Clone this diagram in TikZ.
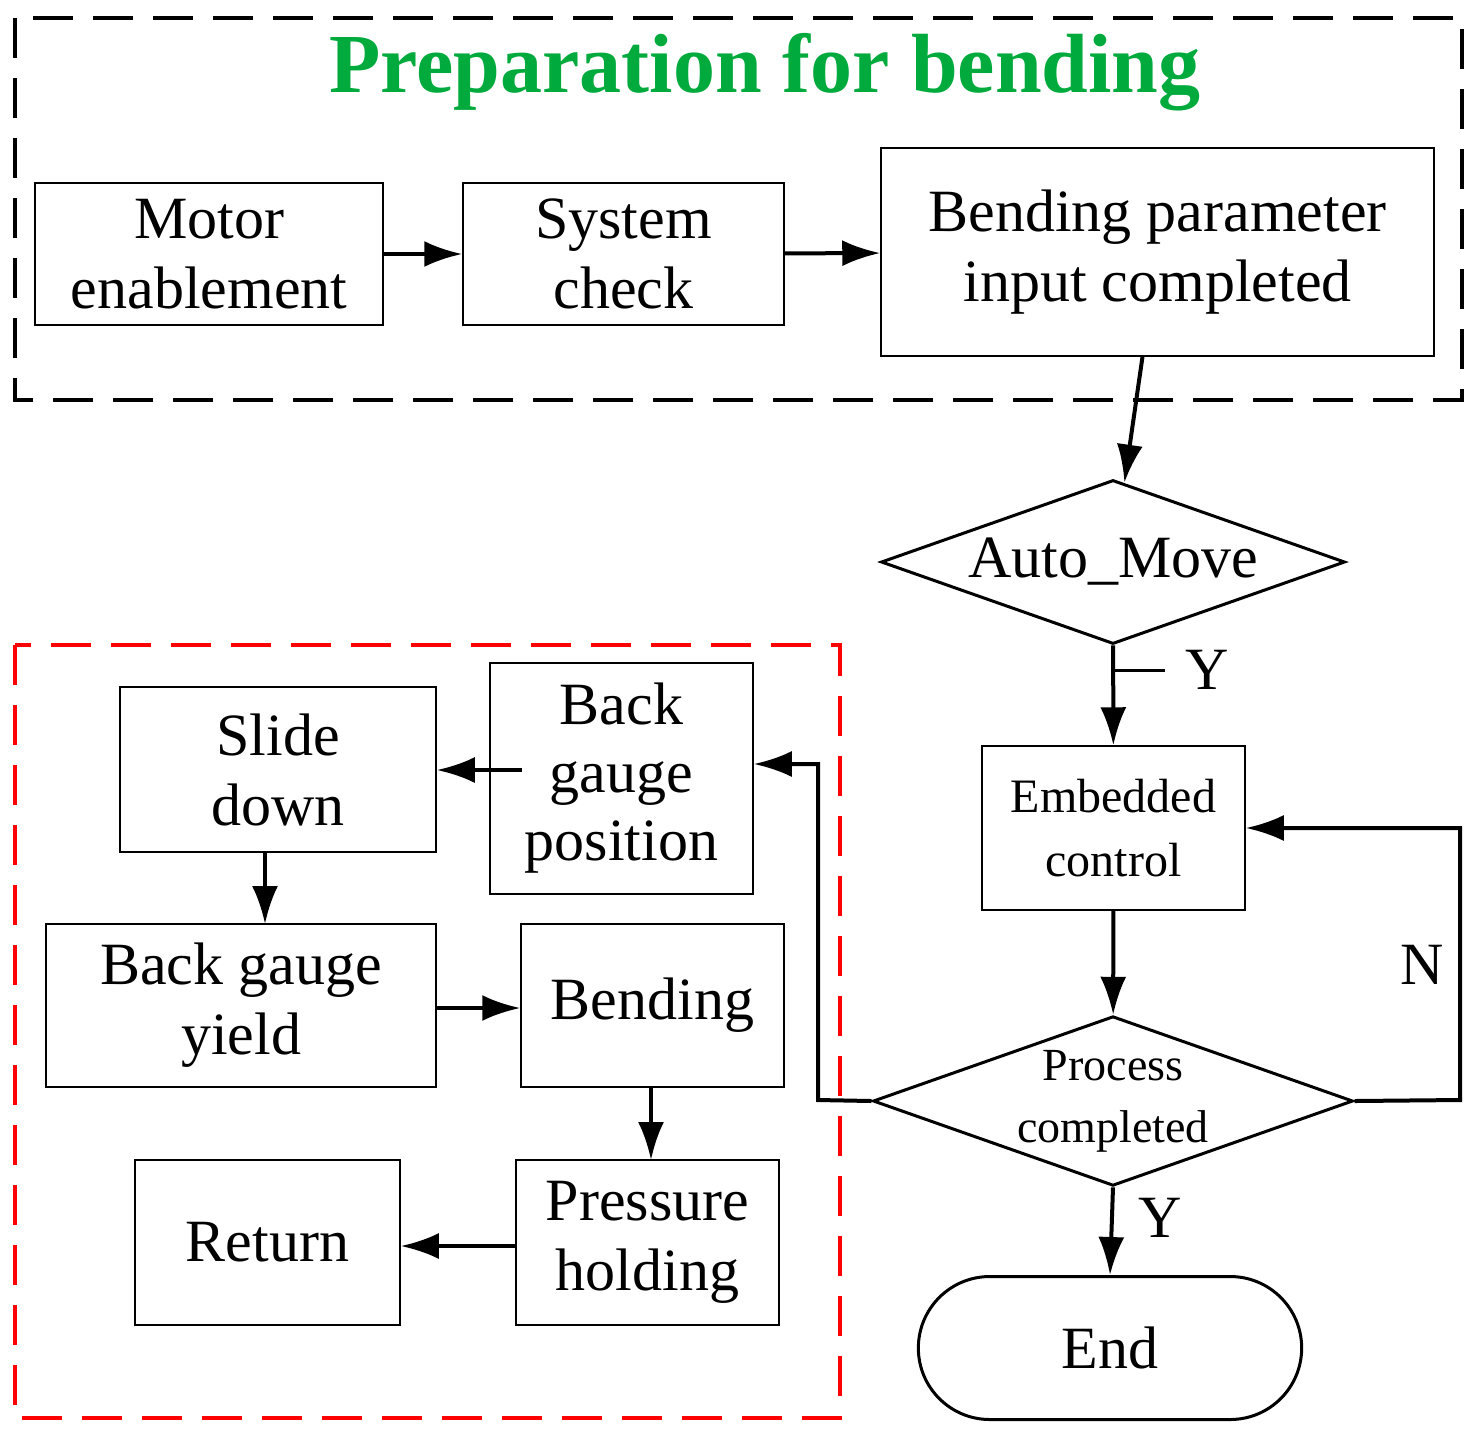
\documentclass[tikz,border=0pt]{standalone}
\usepackage{fontspec}
\setmainfont{Liberation Serif}
\usetikzlibrary{shapes.geometric,shapes.misc,arrows.meta}
\definecolor{tgreen}{RGB}{0,170,60}
\begin{document}
\begin{tikzpicture}[x=1pt,y=-1pt,
 box/.style={draw,line width=1.5pt,inner sep=0pt,align=center,font=\fontsize{60}{70}\selectfont},
 arr/.style={line width=4pt,-{Latex[length=38pt,width=26pt]}},
 dia/.style={draw,line width=3pt,diamond,aspect=2.83,inner sep=0pt,minimum width=464pt,minimum height=164pt,align=center},
 lab/.style={font=\fontsize{60}{70}\selectfont}]
\useasboundingbox (0,0) rectangle (1479,1444);
\draw[line width=3.5pt,dash pattern=on 40pt off 20pt] (15,18) rectangle (1462,400);
\draw[red,line width=3.5pt,dash pattern=on 40pt off 20pt] (15,645) rectangle (840,1418);
\node[font=\bfseries\fontsize{84}{90}\selectfont,text=tgreen] (title) at (765,72) {Preparation for bending};
\node[box,minimum width=348pt,minimum height=142pt] (motor) at (209,254) {Motor\\enablement};
\node[box,minimum width=321pt,minimum height=142pt] (sys) at (623.5,254) {System\\check};
\node[box,minimum width=553pt,minimum height=208pt] (bp) at (1157.5,252) {Bending parameter\\input completed};
\node[dia,font=\fontsize{60}{70}\selectfont] (auto) at (1113,562) {Auto\_Move};
\node[box,minimum width=263pt,minimum height=164pt,font=\fontsize{48}{64}\selectfont] (emb) at (1113.5,828) {Embedded\\control};
\node[dia,font=\fontsize{46}{62}\selectfont] (proc) at (1113,1101) {Process\\completed};
\node[draw,line width=3pt,rounded rectangle,minimum width=390pt,minimum height=143pt,font=\fontsize{60}{70}\selectfont] (end) at (1110,1348) {End};
\node[box,minimum width=263pt,minimum height=231pt,font=\fontsize{60}{68}\selectfont] (bgp) at (621.5,778.5) {Back\\gauge\\position};
\node[box,minimum width=316pt,minimum height=165pt] (slide) at (278,769.5) {Slide\\down};
\node[box,minimum width=390pt,minimum height=163pt] (yield) at (241,1005.5) {Back gauge\\yield};
\node[box,minimum width=263pt,minimum height=163pt] (bend) at (652.5,1005.5) {Bending};
\node[box,minimum width=263pt,minimum height=165pt] (press) at (647.5,1242.5) {Pressure\\holding};
\node[box,minimum width=265pt,minimum height=165pt] (ret) at (267.5,1242.5) {Return};
\draw[arr] (motor) -- (sys);
\draw[arr] (sys) -- (bp);
\draw[arr] (bp) -- (auto);
\draw[arr] (auto) -- (emb);
\draw[line width=3pt] (1113,670) -- (1165,670);
\node[lab] (y1) at (1207,670) {Y};
\draw[arr] (emb) -- (proc);
\draw[arr] (proc.east) -- (1460,1100) -- (1460,828) -- (emb.east);
\node[lab] (n) at (1422,965) {N};
\draw[arr] (proc.west) -- (818,1100) -- (818,764) -- (bgp.east |- 0,764);
\draw[arr] (proc.south) -- (end.north);
\node[lab] (y2) at (1160,1218) {Y};
\draw[arr] (522,770) -- (slide.east |- 0,770);
\draw[arr] (265,852) -- (265,924);
\draw[arr] (yield.east |- 0,1008) -- (bend.west |- 0,1008);
\draw[arr] (651,1087) -- (651,1160);
\draw[arr] (press.west |- 0,1246) -- (ret.east |- 0,1246);
\end{tikzpicture}
\end{document}
